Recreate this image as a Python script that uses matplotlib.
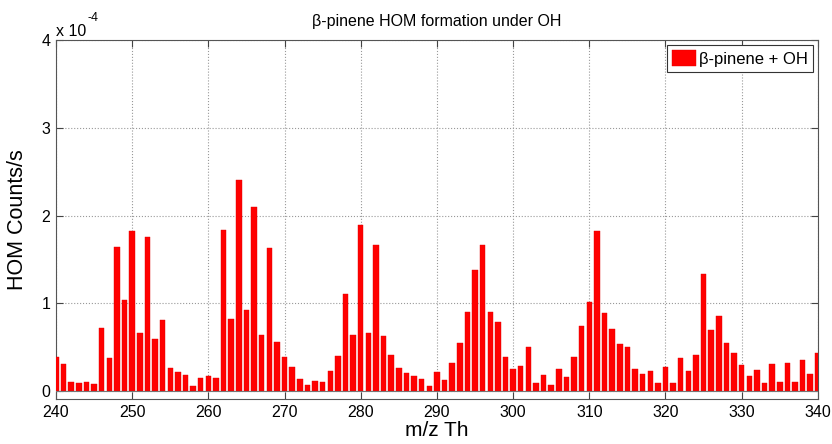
import numpy as np
import matplotlib.pyplot as plt
from matplotlib.ticker import FixedLocator

plt.rcParams['font.family'] = ['Liberation Sans', 'DejaVu Sans']

# m/z values (Th) and HOM signal in units of 1e-4 counts/s
MZ = np.arange(240, 341)
SIGNAL = [
    0.39, 0.31, 0.11, 0.09, 0.11, 0.08, 0.72, 0.38, 1.64, 1.04,   # 240-249
    1.82, 0.66, 1.76, 0.60, 0.81, 0.27, 0.22, 0.18, 0.065, 0.15,  # 250-259
    0.17, 0.15, 1.84, 0.82, 2.41, 0.92, 2.10, 0.645, 1.63, 0.565, # 260-269
    0.385, 0.28, 0.14, 0.07, 0.12, 0.10, 0.225, 0.40, 1.11, 0.645, # 270-279
    1.89, 0.665, 1.67, 0.63, 0.415, 0.27, 0.21, 0.17, 0.135, 0.065, # 280-289
    0.22, 0.13, 0.32, 0.55, 0.905, 1.38, 1.66, 0.905, 0.79, 0.385, # 290-299
    0.25, 0.29, 0.50, 0.09, 0.19, 0.07, 0.255, 0.16, 0.39, 0.74,  # 300-309
    1.02, 1.83, 0.89, 0.71, 0.54, 0.50, 0.255, 0.20, 0.23, 0.09,  # 310-319
    0.275, 0.09, 0.375, 0.23, 0.415, 1.33, 0.70, 0.855, 0.545, 0.44, # 320-329
    0.30, 0.17, 0.24, 0.09, 0.31, 0.10, 0.325, 0.11, 0.36, 0.20,  # 330-339
    0.43,                                                          # 340
]
SCALE = 1e-4
LABEL = 'β-pinene + OH'
TITLE = 'β-pinene HOM formation under OH'

fig = plt.figure(figsize=(8.32, 4.44), dpi=100)
ax = fig.add_axes([0.0673, 0.101, 0.9157, 0.809])

ax.bar(MZ, np.array(SIGNAL) * SCALE, width=0.72, color='#ff0000',
       edgecolor='#e00000', linewidth=0.3, label=LABEL, zorder=3)
ax.axhline(0, color='#777777', linewidth=0.8, zorder=4)

ax.set_xlim(240, 340)
ax.set_ylim(-0.09e-4, 4e-4)
ax.xaxis.set_major_locator(FixedLocator(np.arange(240, 341, 10)))
ax.yaxis.set_major_locator(FixedLocator(np.arange(0, 5) * SCALE))
ax.set_yticklabels([str(i) for i in range(5)])

ax.grid(True, linestyle=':', color='#999999', linewidth=0.8, zorder=0)
ax.tick_params(direction='in', top=True, right=True, length=5,
               labelsize=11.5, color='#444444', pad=4)
for s in ax.spines.values():
    s.set_color('#555555')
    s.set_linewidth(0.8)

# MATLAB-style exponent label
ax.text(0.0, 1.004, 'x 10', transform=ax.transAxes, fontsize=11.5,
        ha='left', va='bottom')
ax.text(0.041, 1.045, '-4', transform=ax.transAxes, fontsize=9,
        ha='left', va='bottom')

ax.set_title(TITLE, fontsize=11.5, pad=10)
ax.set_xlabel('m/z Th', fontsize=15, labelpad=1)
ax.set_ylabel('HOM Counts/s', fontsize=15.5, labelpad=10)

leg = ax.legend(loc='upper right', fontsize=12, fancybox=False,
                framealpha=1, edgecolor='#333333', handlelength=1.4,
                handleheight=1.1, handletextpad=0.2, borderpad=0.3,
                borderaxespad=0.3)
leg.get_frame().set_linewidth(0.8)

fig.savefig('out.png', dpi=100)
